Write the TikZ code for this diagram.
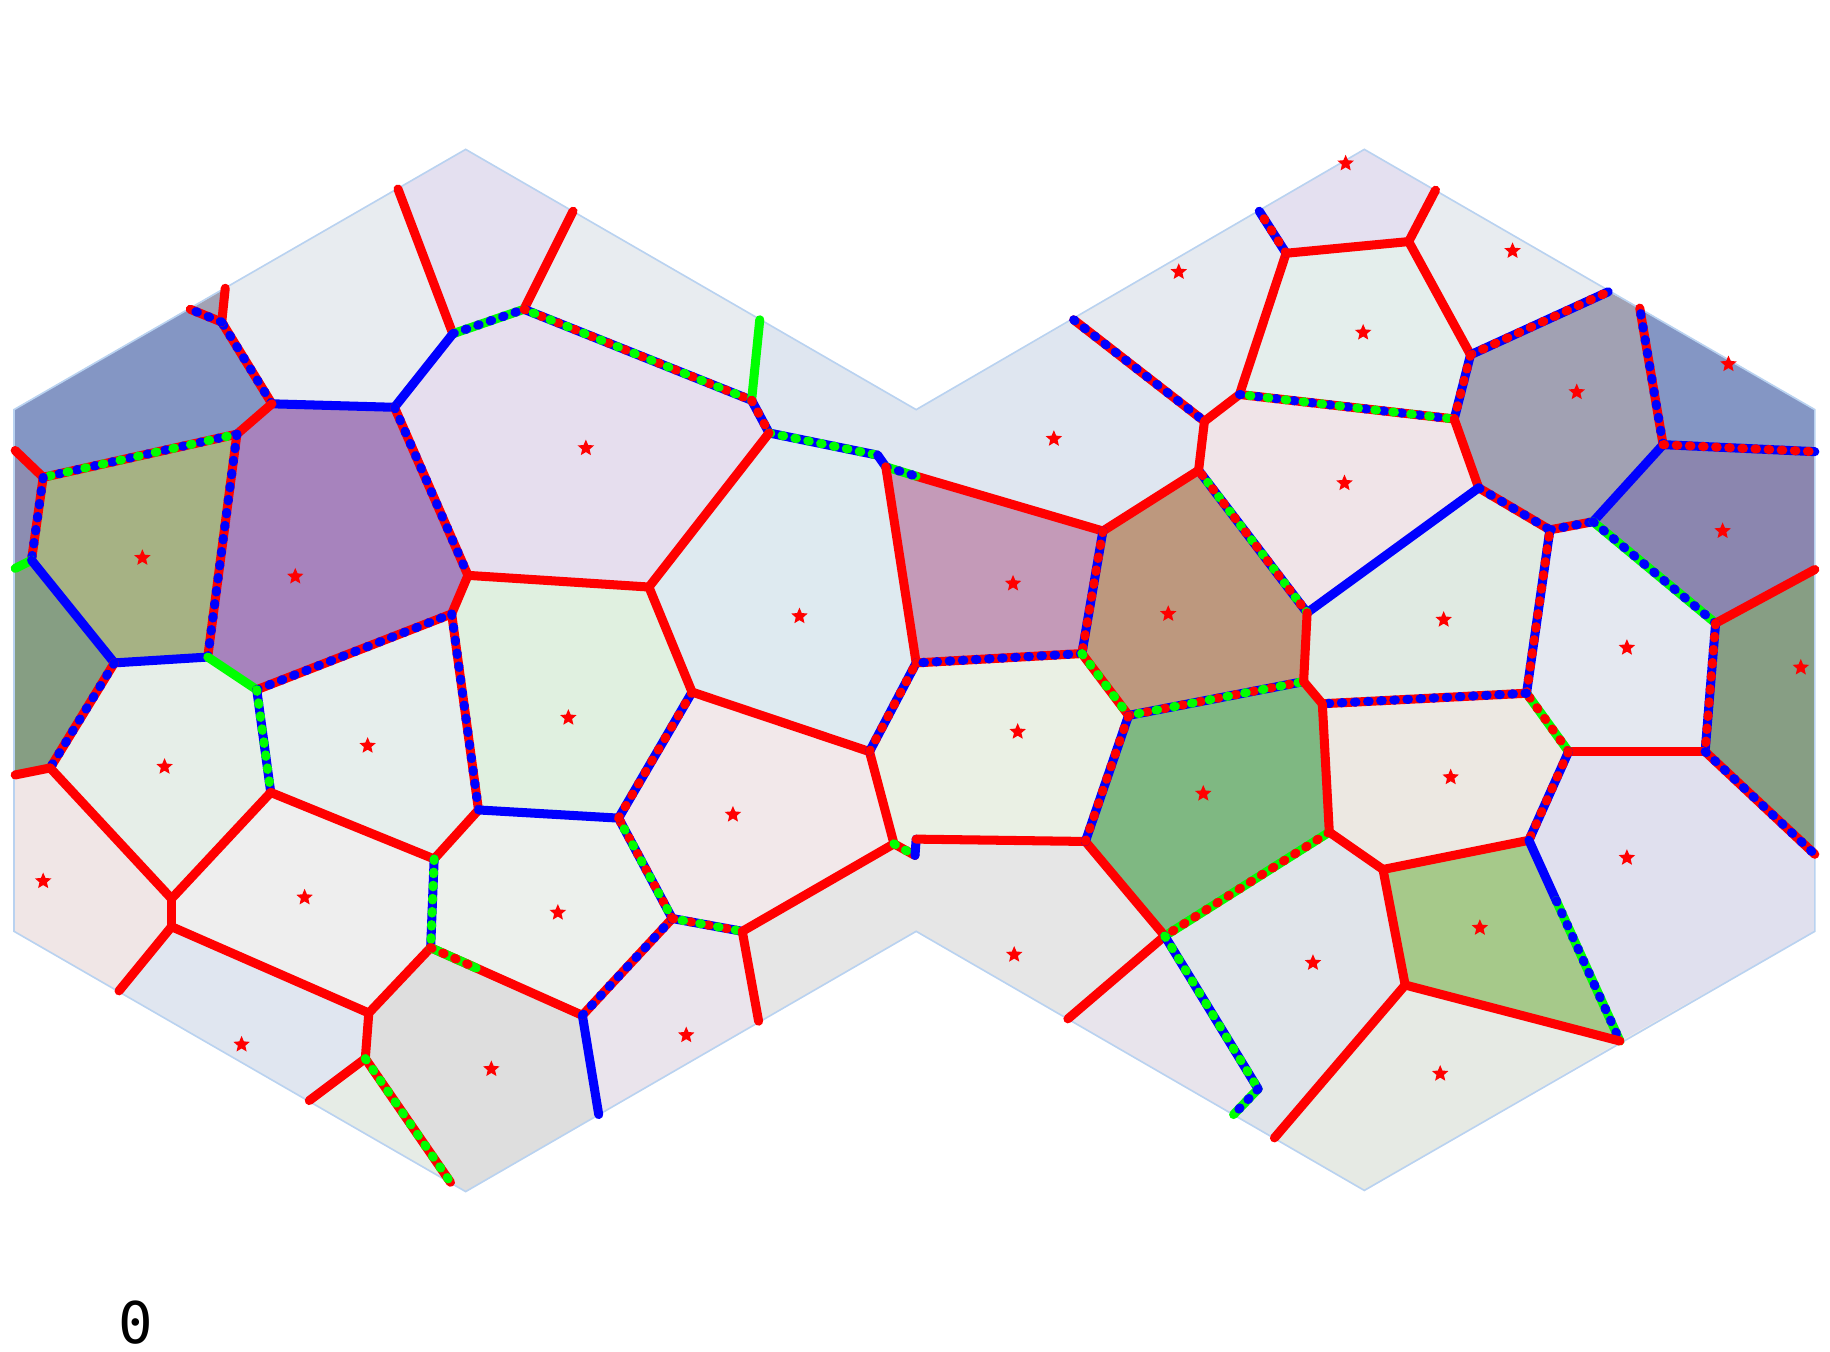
\documentclass[tikz,border=0pt]{standalone}
\usepackage{fontspec}
\newfontfamily\dejamono{DejaVu Sans Mono}
\usetikzlibrary{shapes.geometric,calc}
\tikzset{
  ed/.style={line width=2.2pt, line cap=round, line join=round},
  seed/.style={star, star points=5, star point ratio=2.2, fill=red, draw=none, inner sep=0pt, minimum size=4.2pt},
  hexline/.style={draw={rgb,255:red,185;green,210;blue,240}, line width=0.4pt}
}
\newcommand\Er[1]{\draw[ed,red] #1;}
\newcommand\Eb[1]{\draw[ed,blue] #1;}
\newcommand\Eg[1]{\draw[ed,green] #1;}
\newcommand\Emix[3]{\draw[ed,#1] #3; \draw[ed,#2,dash pattern=on 0.4pt off 2.8pt] #3;}
\newcommand\Emixx[4]{\draw[ed,#1] #4; \draw[ed,#2,dash pattern=on 0.4pt off 4pt] #4; \draw[ed,#3,dash pattern=on 0.4pt off 4pt,dash phase=2pt] #4;}
\begin{document}
\begin{tikzpicture}[x=0.01cm,y=-0.01cm]
\useasboundingbox (0,0) rectangle (1568,1158);
% hexagon corners
\coordinate (LT) at (399,128); \coordinate (LUR) at (785,351); \coordinate (LLR) at (785,798);
\coordinate (LB) at (399,1021); \coordinate (LLL) at (12,798); \coordinate (LUL) at (12,351);
\coordinate (RT) at (1169,128); \coordinate (RUR) at (1555,351); \coordinate (RLR) at (1555,798);
\coordinate (RB) at (1169,1020);
% left vertices
\coordinate (A) at (388,286); \coordinate (B) at (449,265); \coordinate (C) at (338,349);
\coordinate (D) at (644,343); \coordinate (E) at (659,371); \coordinate (F) at (752,390);
\coordinate (G) at (759,400); \coordinate (I) at (233,346); \coordinate (K) at (190,276);
\coordinate (L) at (203,372); \coordinate (M) at (37,409); \coordinate (O) at (27,480);
\coordinate (P) at (98,568); \coordinate (Q) at (43,658); \coordinate (N) at (178,563);
\coordinate (S) at (220,591); \coordinate (U) at (387,526); \coordinate (J) at (401,493);
\coordinate (V) at (232,679); \coordinate (R) at (147,770); \coordinate (Y) at (147,794);
\coordinate (X) at (410,694); \coordinate (Z) at (372,736); \coordinate (AA) at (530,701);
\coordinate (AB) at (369,812); \coordinate (AC) at (316,868); \coordinate (AD) at (499,870);
\coordinate (AE) at (313,907); \coordinate (AF) at (576,787); \coordinate (AG) at (636,798);
\coordinate (AH) at (766,723); \coordinate (AI) at (593,593); \coordinate (AJ) at (745,644);
\coordinate (AK) at (785,568); \coordinate (W) at (556,503);
\coordinate (H1) at (784,733); \coordinate (H2) at (785,719);
% left boundary points
\coordinate (b1) at (341,162); \coordinate (b2) at (491,181); \coordinate (b3) at (651,274);
\coordinate (b4) at (193,247); \coordinate (b5) at (163,265); \coordinate (b6) at (13,386);
\coordinate (b7) at (13,487); \coordinate (b8) at (13,664); \coordinate (b9) at (102,849);
\coordinate (b10) at (265,943); \coordinate (b11) at (386,1013); \coordinate (b12) at (513,955);
\coordinate (b13) at (650,875); \coordinate (bG) at (785,408);
% right vertices
\coordinate (AL) at (927,560); \coordinate (AM) at (945,455); \coordinate (AN) at (967,613);
\coordinate (AO) at (1027,403); \coordinate (AP) at (1032,361); \coordinate (AQ) at (1062,338);
\coordinate (AR) at (1102,217); \coordinate (AT) at (1207,207); \coordinate (AU) at (1260,304);
\coordinate (AS) at (1246,359); \coordinate (AV) at (1267,418); \coordinate (AW) at (1328,454);
\coordinate (AX) at (1120,525); \coordinate (AY) at (1425,381); \coordinate (AZ) at (1365,447);
\coordinate (BA) at (1470,534); \coordinate (BB) at (1461,644); \coordinate (BC) at (1344,644);
\coordinate (BD) at (1308,594); \coordinate (BE) at (1310,720); \coordinate (BF) at (1133,603);
\coordinate (BG) at (1117,584); \coordinate (BH) at (1139,713); \coordinate (BI) at (998,802);
\coordinate (BJ) at (930,721); \coordinate (BK) at (1185,745); \coordinate (BL) at (1204,844);
\coordinate (BM) at (1388,892); \coordinate (BN) at (1078,933);
% right boundary points
\coordinate (c1) at (920,274); \coordinate (c2) at (1079,181); \coordinate (c3) at (1230,163);
\coordinate (c4) at (1378,250); \coordinate (c5) at (1405,264); \coordinate (c6) at (1555,387);
\coordinate (c7) at (1555,488); \coordinate (c8) at (1555,732); \coordinate (c9) at (1092,975);
\coordinate (c10) at (1057,955); \coordinate (c11) at (915,873);
% cells
\begin{scope}
\clip (LUL) -- (LT) -- (LUR) -- (RT) -- (RUR) -- (RLR) -- (RB) -- (LLR) -- (LB) -- (LLL) -- cycle;
\fill[fill=black!8] (0,0) rectangle (1568,1158);
\fill[fill={rgb,255:red,132;green,150;blue,196}] (LUL) -- (0,351) -- (0,300) -- (b5) -- (K) -- (I) -- (L) -- (M) -- (b6) -- (0,386) -- cycle;
\fill[fill={rgb,255:red,140;green,141;blue,178}] (b6) -- (M) -- (O) -- (b7) -- (0,487) -- (0,386) -- cycle;
\fill[fill={rgb,255:red,162;green,162;blue,180}] (b5) -- (b4) -- (K) -- cycle;
\fill[fill={rgb,255:red,232;green,236;blue,240}] (b4) -- (b1) -- (A) -- (C) -- (I) -- (K) -- cycle;
\fill[fill={rgb,255:red,228;green,224;blue,240}] (b1) -- (LT) -- (b2) -- (B) -- (A) -- cycle;
\fill[fill={rgb,255:red,232;green,236;blue,240}] (b2) -- (b3) -- (D) -- (B) -- cycle;
\fill[fill={rgb,255:red,223;green,230;blue,240}] (b3) -- (LUR) -- (c1) -- (AP) -- (AO) -- (AM) -- (G) -- (F) -- (E) -- (D) -- cycle;
\fill[fill={rgb,255:red,230;green,222;blue,238}] (B) -- (D) -- (E) -- (W) -- (J) -- (C) -- (A) -- cycle;
\fill[fill={rgb,255:red,167;green,131;blue,189}] (I) -- (C) -- (J) -- (U) -- (S) -- (N) -- (L) -- cycle;
\fill[fill={rgb,255:red,166;green,178;blue,132}] (M) -- (L) -- (N) -- (P) -- (O) -- cycle;
\fill[fill={rgb,255:red,134;green,158;blue,131}] (O) -- (P) -- (Q) -- (b8) -- (0,664) -- (0,487) -- (b7) -- cycle;
\fill[fill={rgb,255:red,240;green,230;blue,230}] (b8) -- (Q) -- (R) -- (Y) -- (b9) -- (LLL) -- (0,798) -- (0,664) -- cycle;
\fill[fill={rgb,255:red,230;green,238;blue,232}] (P) -- (N) -- (S) -- (V) -- (R) -- (Q) -- cycle;
\fill[fill={rgb,255:red,230;green,238;blue,236}] (S) -- (U) -- (X) -- (Z) -- (V) -- cycle;
\fill[fill={rgb,255:red,224;green,240;blue,224}] (J) -- (W) -- (AI) -- (AA) -- (X) -- (U) -- cycle;
\fill[fill={rgb,255:red,222;green,234;blue,240}] (E) -- (F) -- (G) -- (AK) -- (AJ) -- (AI) -- (W) -- cycle;
\fill[fill={rgb,255:red,242;green,232;blue,234}] (AI) -- (AJ) -- (AH) -- (AG) -- (AF) -- (AA) -- cycle;
\fill[fill={rgb,255:red,236;green,240;blue,236}] (X) -- (AA) -- (AF) -- (AD) -- (AB) -- (Z) -- cycle;
\fill[fill={rgb,255:red,238;green,238;blue,238}] (V) -- (Z) -- (AB) -- (AC) -- (Y) -- (R) -- cycle;
\fill[fill={rgb,255:red,224;green,230;blue,240}] (b9) -- (Y) -- (AC) -- (AE) -- (b10) -- cycle;
\fill[fill={rgb,255:red,230;green,236;blue,230}] (b10) -- (AE) -- (b11) -- cycle;
\fill[fill={rgb,255:red,222;green,222;blue,222}] (AC) -- (AB) -- (AD) -- (b12) -- (LB) -- (b11) -- (AE) -- cycle;
\fill[fill={rgb,255:red,234;green,228;blue,236}] (AD) -- (AF) -- (AG) -- (b13) -- (b12) -- cycle;
\fill[fill={rgb,255:red,230;green,230;blue,230}] (AG) -- (AH) -- (H1) -- (H2) -- (BJ) -- (BI) -- (c11) -- (LLR) -- (b13) -- cycle;
\fill[fill={rgb,255:red,230;green,234;blue,240}] (c1) -- (c2) -- (AR) -- (AQ) -- (AP) -- cycle;
\fill[fill={rgb,255:red,228;green,224;blue,240}] (c2) -- (RT) -- (c3) -- (AT) -- (AR) -- cycle;
\fill[fill={rgb,255:red,232;green,236;blue,240}] (c3) -- (c4) -- (AU) -- (AT) -- cycle;
\fill[fill={rgb,255:red,228;green,238;blue,236}] (AR) -- (AT) -- (AU) -- (AS) -- (AQ) -- cycle;
\fill[fill={rgb,255:red,240;green,228;blue,232}] (AQ) -- (AS) -- (AV) -- (AX) -- (AO) -- (AP) -- cycle;
\fill[fill={rgb,255:red,161;green,161;blue,179}] (AU) -- (c4) -- (c5) -- (AY) -- (AZ) -- (AW) -- (AV) -- (AS) -- cycle;
\fill[fill={rgb,255:red,132;green,150;blue,196}] (c5) -- (RUR) -- (1568,351) -- (1568,387) -- (c6) -- (AY) -- cycle;
\fill[fill={rgb,255:red,139;green,134;blue,175}] (AY) -- (c6) -- (1568,387) -- (1568,488) -- (c7) -- (BA) -- (AZ) -- cycle;
\fill[fill={rgb,255:red,135;green,158;blue,132}] (BA) -- (c7) -- (1568,488) -- (1568,732) -- (c8) -- (BB) -- cycle;
\fill[fill={rgb,255:red,196;green,154;blue,184}] (G) -- (AM) -- (AL) -- (AK) -- cycle;
\fill[fill={rgb,255:red,189;green,152;blue,126}] (AM) -- (AO) -- (AX) -- (BG) -- (AN) -- (AL) -- cycle;
\fill[fill={rgb,255:red,234;green,240;blue,228}] (AK) -- (AL) -- (AN) -- (BJ) -- (H2) -- (H1) -- (AH) -- (AJ) -- cycle;
\fill[fill={rgb,255:red,127;green,184;blue,130}] (AN) -- (BG) -- (BF) -- (BH) -- (BI) -- (BJ) -- cycle;
\fill[fill={rgb,255:red,224;green,234;blue,226}] (AX) -- (AV) -- (AW) -- (BD) -- (BF) -- (BG) -- cycle;
\fill[fill={rgb,255:red,228;green,232;blue,240}] (AW) -- (AZ) -- (BA) -- (BB) -- (BC) -- (BD) -- cycle;
\fill[fill={rgb,255:red,236;green,232;blue,226}] (BF) -- (BD) -- (BC) -- (BE) -- (BK) -- (BH) -- cycle;
\fill[fill={rgb,255:red,224;green,224;blue,238}] (BC) -- (BB) -- (c8) -- (1568,732) -- (1568,798) -- (RLR) -- (BM) -- (BE) -- cycle;
\fill[fill={rgb,255:red,166;green,201;blue,138}] (BK) -- (BE) -- (BM) -- (BL) -- cycle;
\fill[fill={rgb,255:red,224;green,228;blue,234}] (BH) -- (BK) -- (BL) -- (c9) -- (c10) -- (BN) -- (BI) -- cycle;
\fill[fill={rgb,255:red,230;green,234;blue,228}] (BL) -- (BM) -- (RB) -- (c9) -- cycle;
\fill[fill={rgb,255:red,232;green,228;blue,236}] (BI) -- (BN) -- (c10) -- (c11) -- cycle;
\end{scope}
\draw[hexline] (LUL) -- (LT) -- (LUR) -- (RT) -- (RUR) -- (RLR) -- (RB) -- (LLR) -- (LB) -- (LLL) -- cycle;
% edges, left
\Er{(b1)--(A)}
\Er{(b2)--(B)}
\Emix{green}{blue}{(A)--(B)}
\Eb{(A)--(C)}
\Emixx{blue}{red}{green}{(B)--(D)}
\Eg{(D)--(b3)}
\Emix{blue}{red}{(D)--(E)}
\Emix{blue}{green}{(E)--(F)}
\Eb{(F)--(G)}
\Er{(bG)--(AM)}
\Emix{green}{blue}{(G)--(bG)}
\Er{(G)--(AK)}
\Eb{(C)--(I)}
\Emix{red}{blue}{(C)--(J)}
\Emix{red}{blue}{(I)--(K)}
\Er{(K)--(b4)}
\Emix{red}{blue}{(K)--(b5)}
\Er{(I)--(L)}
\Emixx{red}{blue}{green}{(L)--(M)}
\Er{(M)--(b6)}
\Emix{red}{blue}{(M)--(O)}
\Eg{(O)--(b7)}
\Eb{(O)--(P)}
\Emix{red}{blue}{(L)--(N)}
\Eb{(P)--(N)}
\Emix{red}{blue}{(P)--(Q)}
\Er{(Q)--(b8)}
\Er{(Q)--(R)}
\Eg{(N)--(S)}
\Emix{red}{blue}{(S)--(U)}
\Emix{blue}{green}{(S)--(V)}
\Er{(U)--(J)}
\Er{(J)--(W)}
\Emix{red}{blue}{(U)--(X)}
\Er{(V)--(R)}
\Er{(V)--(Z)}
\Er{(R)--(Y)}
\Er{(Y)--(b9)}
\Er{(Y)--(AC)}
\Er{(X)--(Z)}
\Eb{(X)--(AA)}
\Emix{blue}{green}{(Z)--(AB)}
\Er{(AB)--(AC)}
\Er{(AB)--(AD)}
\Emix{green}{red}{(AB)--($(AB)!0.3!(AD)$)}
\Er{(AC)--(AE)}
\Er{(AE)--(b10)}
\Emix{red}{green}{(AE)--(b11)}
\Eb{(AD)--(b12)}
\Emix{red}{blue}{(AD)--(AF)}
\Emixx{blue}{red}{green}{(AF)--(AA)}
\Emixx{blue}{red}{green}{(AF)--(AG)}
\Er{(AG)--(b13)}
\Er{(AG)--(AH)}
\Emix{blue}{red}{(AA)--(AI)}
\Er{(W)--(E)}
\Er{(W)--(AI)}
\Er{(AI)--(AJ)}
\Er{(AJ)--(AH)}
\Emix{blue}{red}{(AJ)--(AK)}
\Emix{red}{green}{(AH)--(H1)}
\Eb{(H1)--(H2)}
\Er{(H2)--(BJ)}
% edges, right
\Emix{red}{blue}{(c1)--(AP)}
\Er{(AP)--(AQ)}
\Er{(AQ)--(AR)}
\Emix{blue}{red}{(AR)--(c2)}
\Er{(AR)--(AT)}
\Er{(AT)--(c3)}
\Er{(AT)--(AU)}
\Emix{blue}{red}{(AU)--(c4)}
\Emix{blue}{red}{(AU)--(AS)}
\Emixx{red}{blue}{green}{(AQ)--(AS)}
\Er{(AS)--(AV)}
\Emix{red}{blue}{(AV)--(AW)}
\Emix{red}{blue}{(AW)--(AZ)}
\Eb{(AZ)--(AY)}
\Emix{red}{blue}{(AY)--(c5)}
\Emix{blue}{red}{(AY)--(c6)}
\Emix{green}{blue}{(AZ)--(BA)}
\Er{(BA)--(c7)}
\Emix{blue}{red}{(BA)--(BB)}
\Er{(BB)--(BC)}
\Emix{red}{blue}{(BB)--(c8)}
\Emix{green}{red}{(BC)--(BD)}
\Emix{blue}{red}{(BC)--(BE)}
\Emix{blue}{red}{(BD)--(AW)}
\Emix{red}{blue}{(BD)--(BF)}
\Eb{(AV)--(AX)}
\Emixx{blue}{green}{red}{(AX)--(AO)}
\Er{(AO)--(AP)}
\Er{(AO)--(AM)}
\Emix{blue}{red}{(AM)--(AL)}
\Emix{red}{blue}{(AL)--(AK)}
\Emix{red}{green}{(AL)--(AN)}
\Emixx{blue}{red}{green}{(AN)--(BG)}
\Er{(BG)--(AX)}
\Er{(BG)--(BF)}
\Er{(BF)--(BH)}
\Emix{green}{red}{(BH)--(BI)}
\Er{(BH)--(BK)}
\Er{(BK)--(BE)}
\Er{(BK)--(BL)}
\Eb{(BE)--($(BE)!0.3!(BM)$)}
\Emix{green}{blue}{($(BE)!0.3!(BM)$)--(BM)}
\Er{(BL)--(BM)}
\Er{(BL)--(c9)}
\Er{(BI)--(BJ)}
\Emix{blue}{red}{(BJ)--(AN)}
\Er{(BI)--(c11)}
\Emix{blue}{green}{(BI)--(BN)}
\Emix{green}{blue}{(BN)--(c10)}
% seeds
\foreach \p [count=\i] in {(502,384),(253,494),(122,478),(685,528),(487,615),(315,639),(141,657),(628,698),(37,755),(261,769),(478,782),(207,895),(421,916),(588,887),(868,500),(903,376),(1010,233),(1153,140),(1296,215),(1168,285),(1351,336),(1481,312),(1152,414),(1001,526),(1476,455),(1237,531),(1394,555),(1543,572),(872,627),(1031,680),(1243,666),(1394,735),(1268,795),(869,818),(1125,825),(1234,920)}
  \node[seed] (s\i) at \p {};
\node[font=\fontsize{14}{16}\selectfont\dejamono, inner sep=0pt] (lbl) at (116,1133) {0};
\end{tikzpicture}
\end{document}
